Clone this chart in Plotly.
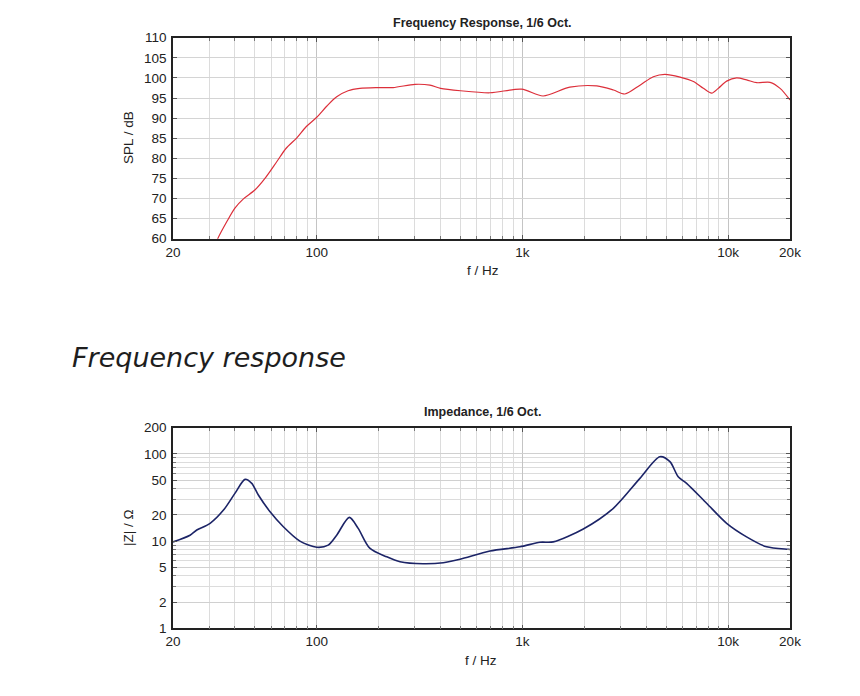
import plotly.graph_objects as go

# ---- data ----
freq_spl = [31, 33, 36.5, 40, 44, 50, 56, 64, 71, 80, 89, 100, 112, 125, 142, 162, 195, 235,
            300, 355, 400, 500, 695, 990, 1260, 1700, 2300, 2770, 3150, 3730, 4330, 4930,
            5840, 6780, 7580, 8320, 8960, 9840, 11000, 12300, 13800, 16000, 17900, 20000]
spl_db = [56.5, 60, 64.2, 67.6, 69.9, 72.1, 75, 79.2, 82.5, 85.1, 87.9, 90.2, 93, 95.3, 96.8,
          97.4, 97.6, 97.6, 98.4, 98.2, 97.4, 96.8, 96.3, 97.2, 95.5, 97.7, 98.0, 97.0, 96.0,
          98.2, 100.3, 100.9, 100.2, 99.1, 97.4, 96.2, 97.4, 99.2, 100.0, 99.5, 98.8, 98.9,
          97.4, 94.5]

freq_z = [20, 24.2, 26.1, 30.3, 35.2, 40, 44.8, 48.3, 52, 59.3, 68.8, 82.8, 100, 113.7, 125,
          144, 159, 181, 219, 254, 329, 412, 497, 695, 972, 1217, 1412, 1977, 2767, 3726,
          4660, 5215, 5720, 6285, 7860, 9840, 12300, 15400, 19600, 20000]
z_ohm = [9.8, 11.7, 13.4, 16, 22.7, 35.3, 51.1, 46, 33.8, 21.7, 14.6, 10, 8.5, 9, 11.7, 18.7,
         14, 8.3, 6.6, 5.8, 5.5, 5.65, 6.2, 7.7, 8.6, 9.7, 9.8, 13.8, 23.8, 52.5, 92.9, 81.5,
         54.8, 46, 27.2, 16, 11.2, 8.6, 8.05, 8.0]

x_tickvals = [20, 100, 1000, 10000, 20000]
x_ticktext = ["20", "100", "1k", "10k", "20k"]
x_minor = [30, 40, 50, 60, 70, 80, 90, 200, 300, 400, 500, 600, 700, 800, 900,
           2000, 3000, 4000, 5000, 6000, 7000, 8000, 9000]
spl_ticks = [60, 65, 70, 75, 80, 85, 90, 95, 100, 105, 110]
z_tickvals = [1, 2, 5, 10, 20, 50, 100, 200]
z_minor = [3, 4, 6, 7, 8, 9, 30, 40, 60, 70, 80, 90]

# figure sized to fit inside the window together with the page's 8px body margin
OFF = 8
W, H = 860 - 2 * OFF, 696 - 2 * OFF
FONT = "Liberation Sans, Arial, sans-serif"
TXT = "#222222"
TICK = 13.5

def px(x):
    return (x - OFF) / W

def py(y):
    return (H - (y - OFF)) / H

fig = go.Figure()
fig.add_trace(go.Scatter(x=freq_spl, y=spl_db, mode="lines", xaxis="x", yaxis="y",
                         line=dict(color="#dc2f3a", width=1.2, shape="spline", smoothing=0.8),
                         showlegend=False, hoverinfo="x+y"))
fig.add_trace(go.Scatter(x=freq_z, y=z_ohm, mode="lines", xaxis="x2", yaxis="y2",
                         line=dict(color="#1c2467", width=1.6, shape="spline", smoothing=0.8),
                         showlegend=False, hoverinfo="x+y"))

xdom = [px(173), px(790)]

def xaxis_cfg(anchor):
    return dict(
        type="log", domain=xdom, anchor=anchor,
        range=[1.30103, 4.30103],
        tickmode="array", tickvals=x_tickvals, ticktext=x_ticktext,
        showgrid=True, gridcolor="#c4c4c4", gridwidth=1,
        ticks="inside", ticklen=4, tickcolor="#555",
        minor=dict(tickmode="array", tickvals=x_minor, showgrid=True,
                   gridcolor="#dcdcdc", gridwidth=1, ticks="inside", ticklen=3,
                   tickcolor="#777"),
        showline=True, linecolor="#222", linewidth=1.6, mirror="allticks",
        tickfont=dict(family=FONT, size=TICK, color=TXT),
        zeroline=False, fixedrange=True, automargin=False,
    )

fig.update_layout(
    width=W, height=H,
    margin=dict(l=0, r=0, t=0, b=0),
    paper_bgcolor="white", plot_bgcolor="white",
    xaxis=xaxis_cfg("y"),
    xaxis2=xaxis_cfg("y2"),
    yaxis=dict(
        domain=[py(238.7), py(37.7)], anchor="x",
        range=[60, 110], tickmode="array", tickvals=spl_ticks,
        showgrid=True, gridcolor="#d4d4d4", gridwidth=1,
        ticks="inside", ticklen=4, tickcolor="#555",
        showline=True, linecolor="#222", linewidth=1.6, mirror="allticks",
        tickfont=dict(family=FONT, size=TICK, color=TXT), ticklabelstandoff=2,
        zeroline=False, fixedrange=True, automargin=False,
    ),
    yaxis2=dict(
        type="log", domain=[py(628.3), py(427.7)], anchor="x2",
        range=[0, 2.30103], tickmode="array", tickvals=z_tickvals,
        ticktext=[str(v) for v in z_tickvals],
        showgrid=True, gridcolor="#d0d0d0", gridwidth=1,
        ticks="inside", ticklen=4, tickcolor="#555",
        minor=dict(tickmode="array", tickvals=z_minor, showgrid=True,
                   gridcolor="#dcdcdc", gridwidth=1, ticks="inside", ticklen=3,
                   tickcolor="#777"),
        showline=True, linecolor="#222", linewidth=1.6, mirror="allticks",
        tickfont=dict(family=FONT, size=TICK, color=TXT), ticklabelstandoff=2,
        zeroline=False, fixedrange=True, automargin=False,
    ),
)

def ann(text, x, y, size, bold=False, angle=0, xanchor="center", family=FONT,
        style="normal", color=TXT):
    fig.add_annotation(
        text=("<b>%s</b>" % text) if bold else text,
        x=px(x), y=py(y), xref="paper", yref="paper",
        xanchor=xanchor, yanchor="middle", showarrow=False, textangle=angle,
        font=dict(family=family, size=size, color=color, style=style),
    )

ann("Frequency Response, 1/6 Oct.", 482, 22.5, 12.5, bold=True)
ann("f / Hz", 483, 270.5, 13.5)
ann("SPL / dB", 128, 138, 13.5, angle=-90)

ann("Frequency response", 70, 357.5, 27, xanchor="left",
    family="DejaVu Sans, sans-serif", style="italic", color="#1e1e1e")

ann("Impedance, 1/6 Oct.", 482, 411.5, 12.5, bold=True)
ann("f / Hz", 481, 660, 13.5)
ann("|Z| / Ω", 128, 528, 13.5, angle=-90)

fig.write_html("out.html")
